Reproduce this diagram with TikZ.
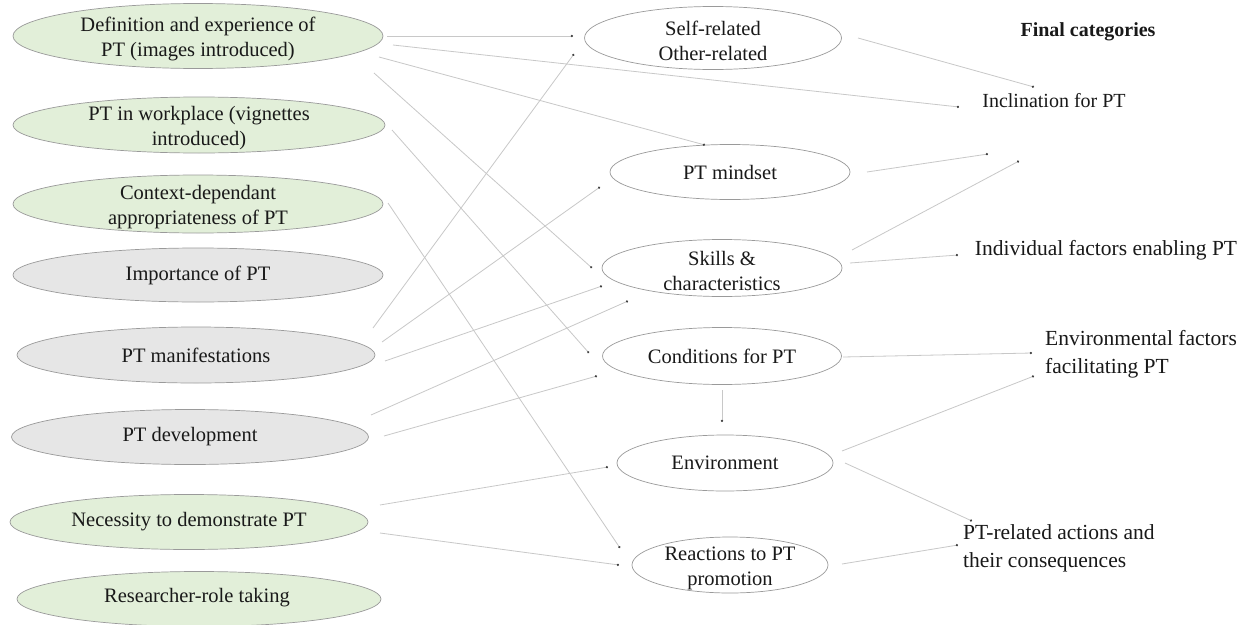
\documentclass[tikz,border=0pt]{standalone}
\usepackage{fontspec}
\setmainfont{Liberation Serif}
\usetikzlibrary{shapes.geometric,arrows.meta}

\definecolor{codegreen}{HTML}{E2EFD9}
\definecolor{codegrey}{HTML}{E6E6E6}
\definecolor{rimgrey}{HTML}{9A9A9A}
\definecolor{linkgrey}{HTML}{C8C8C8}
\definecolor{dotgrey}{HTML}{404040}

\tikzset{
  ell/.style={ellipse, draw=rimgrey, line width=0.7pt, inner sep=0pt},
  greenell/.style={ell, fill=codegreen},
  greyell/.style={ell, fill=codegrey},
  whiteell/.style={ell, fill=white},
  txt/.style={align=center, inner sep=0pt, text=black!90,
    font=\fontsize{20.5}{25}\selectfont},
  twoline/.style={yshift=-3pt},
  cattxt/.style={align=left, inner sep=0pt, text=black!90, yshift=-2pt,
    font=\fontsize{21.5}{28}\selectfont},
  conn/.style={draw=linkgrey, line width=0.8pt,
    -{Circle[length=2.2pt, color=dotgrey]}},
}

\begin{document}
\begin{tikzpicture}[x=1pt, y=-1pt]
\fill[white] (0,0) rectangle (1248,624);
\useasboundingbox (0,0) rectangle (1248,624);

% ---- left column: interview topics ----
\node (def)  [greenell, minimum width=370, minimum height=65] at (198,36)  {};
\node (work) [greenell, minimum width=372, minimum height=56] at (199,125) {};
\node (ctx)  [greenell, minimum width=370, minimum height=58] at (198,204) {};
\node (imp)  [greyell,  minimum width=370, minimum height=54] at (198,275) {};
\node (man)  [greyell,  minimum width=358, minimum height=56] at (196,355) {};
\node (dev)  [greyell,  minimum width=357, minimum height=55] at (190,437) {};
\node (nec)  [greenell, minimum width=358, minimum height=55] at (189,522) {};
\node (res)  [greenell, minimum width=364, minimum height=55] at (199,599) {};

\node (def-t)  [txt, twoline] at (def)  {Definition and experience of\\PT (images introduced)};
\node (work-t) [txt, twoline] at (work) {PT in workplace (vignettes\\introduced)};
\node (ctx-t)  [txt, twoline] at (ctx)  {Context-dependant\\appropriateness of PT};
\node (imp-t)  [txt] at (imp)  {Importance of PT};
\node (man-t)  [txt] at (man)  {PT manifestations};
\node (dev-t)  [txt] at (dev)  {PT development};
\node (nec-t)  [txt] at (nec)  {Necessity to demonstrate PT};
\node (res-t)  [txt] at (197,598) {Researcher-role taking};

% ---- middle column: codes ----
\node (self)  [whiteell, minimum width=257, minimum height=63] at (713,38)  {};
\node (mind)  [whiteell, minimum width=240, minimum height=55] at (730,172) {};
\node (skill) [whiteell, minimum width=240, minimum height=57] at (722,268) {};
\node (cond)  [whiteell, minimum width=239, minimum height=57] at (722,356) {};
\node (env)   [whiteell, minimum width=216, minimum height=56] at (725,463) {};
\node (react) [whiteell, minimum width=196, minimum height=56] at (730,565) {};

\node (self-t)  [txt, twoline] at (self)  {Self-related\\Other-related};
\node (mind-t)  [txt] at (mind)  {PT mindset};
\node (skill-t) [txt, twoline] at (skill) {Skills \&\\characteristics};
\node (cond-t)  [txt] at (cond)  {Conditions for PT};
\node (env-t)   [txt] at (env)   {Environment};
\node (react-t) [txt, twoline] at (react) {Reactions to PT\\promotion};

% ---- right column: final categories ----
\node (final) [txt, font=\fontsize{20}{24}\selectfont\bfseries] at (1088,32) {Final categories};
\node (incl)  [txt, font=\fontsize{20}{24}\selectfont] at (1054,101) {Inclination for PT};
\node (indiv) [cattxt] at (1106,248) {Individual factors enabling PT};
\node (envf)  [cattxt, anchor=west] at (1045,352) {Environmental factors\\facilitating PT};
\node (ptrel) [cattxt, anchor=west] at (963,546) {PT-related actions and\\their consequences};

% ---- connector end points ----
\coordinate (def-self-a)   at (387,36);  \coordinate (def-self-b)   at (573,36);
\coordinate (def-incl-a)   at (393,45);  \coordinate (def-incl-b)   at (959,107);
\coordinate (def-mind-a)   at (379,57);  \coordinate (def-mind-b)   at (705,145);
\coordinate (def-skill-a)  at (374,73);  \coordinate (def-skill-b)  at (592,268);
\coordinate (work-cond-a)  at (392,130); \coordinate (work-cond-b)  at (589,353);
\coordinate (ctx-react-a)  at (388,203); \coordinate (ctx-react-b)  at (620,548);
\coordinate (man-self-a)   at (373,328); \coordinate (man-self-b)   at (574,54);
\coordinate (man-mind-a)   at (382,342); \coordinate (man-mind-b)   at (600,187);
\coordinate (man-skill-a)  at (385,361); \coordinate (man-skill-b)  at (602,286);
\coordinate (dev-skill-a)  at (371,415); \coordinate (dev-skill-b)  at (628,301);
\coordinate (dev-cond-a)   at (384,436); \coordinate (dev-cond-b)   at (597,376);
\coordinate (nec-env-a)    at (380,505); \coordinate (nec-env-b)    at (608,467);
\coordinate (nec-react-a)  at (380,533); \coordinate (nec-react-b)  at (619,565);
\coordinate (cond-env-a)   at (722,390); \coordinate (cond-env-b)   at (722,422);
\coordinate (self-incl-a)  at (858,38);  \coordinate (self-incl-b)  at (1034,87);
\coordinate (mind-cat-a)   at (867,172); \coordinate (mind-cat-b)   at (988,154);
\coordinate (skill-cat-a)  at (852,250); \coordinate (skill-cat-b)  at (1019,161);
\coordinate (skill-ind-a)  at (850,263); \coordinate (skill-ind-b)  at (958,255);
\coordinate (cond-envf-a)  at (843,357); \coordinate (cond-envf-b)  at (1032,353);
\coordinate (env-envf-a)   at (842,451); \coordinate (env-envf-b)   at (1034,376);
\coordinate (env-pt-a)     at (845,463); \coordinate (env-pt-b)     at (972,521);
\coordinate (react-pt-a)   at (842,564); \coordinate (react-pt-b)   at (958,545);

% ---- connectors ----
\foreach \c in {def-self, def-incl, def-mind, def-skill, work-cond, ctx-react,
                man-self, man-mind, man-skill, dev-skill, dev-cond, nec-env,
                nec-react, cond-env, self-incl, mind-cat, skill-cat, skill-ind,
                cond-envf, env-envf, env-pt, react-pt}
  \draw[conn] (\c-a) -- (\c-b);
\end{tikzpicture}
\end{document}
